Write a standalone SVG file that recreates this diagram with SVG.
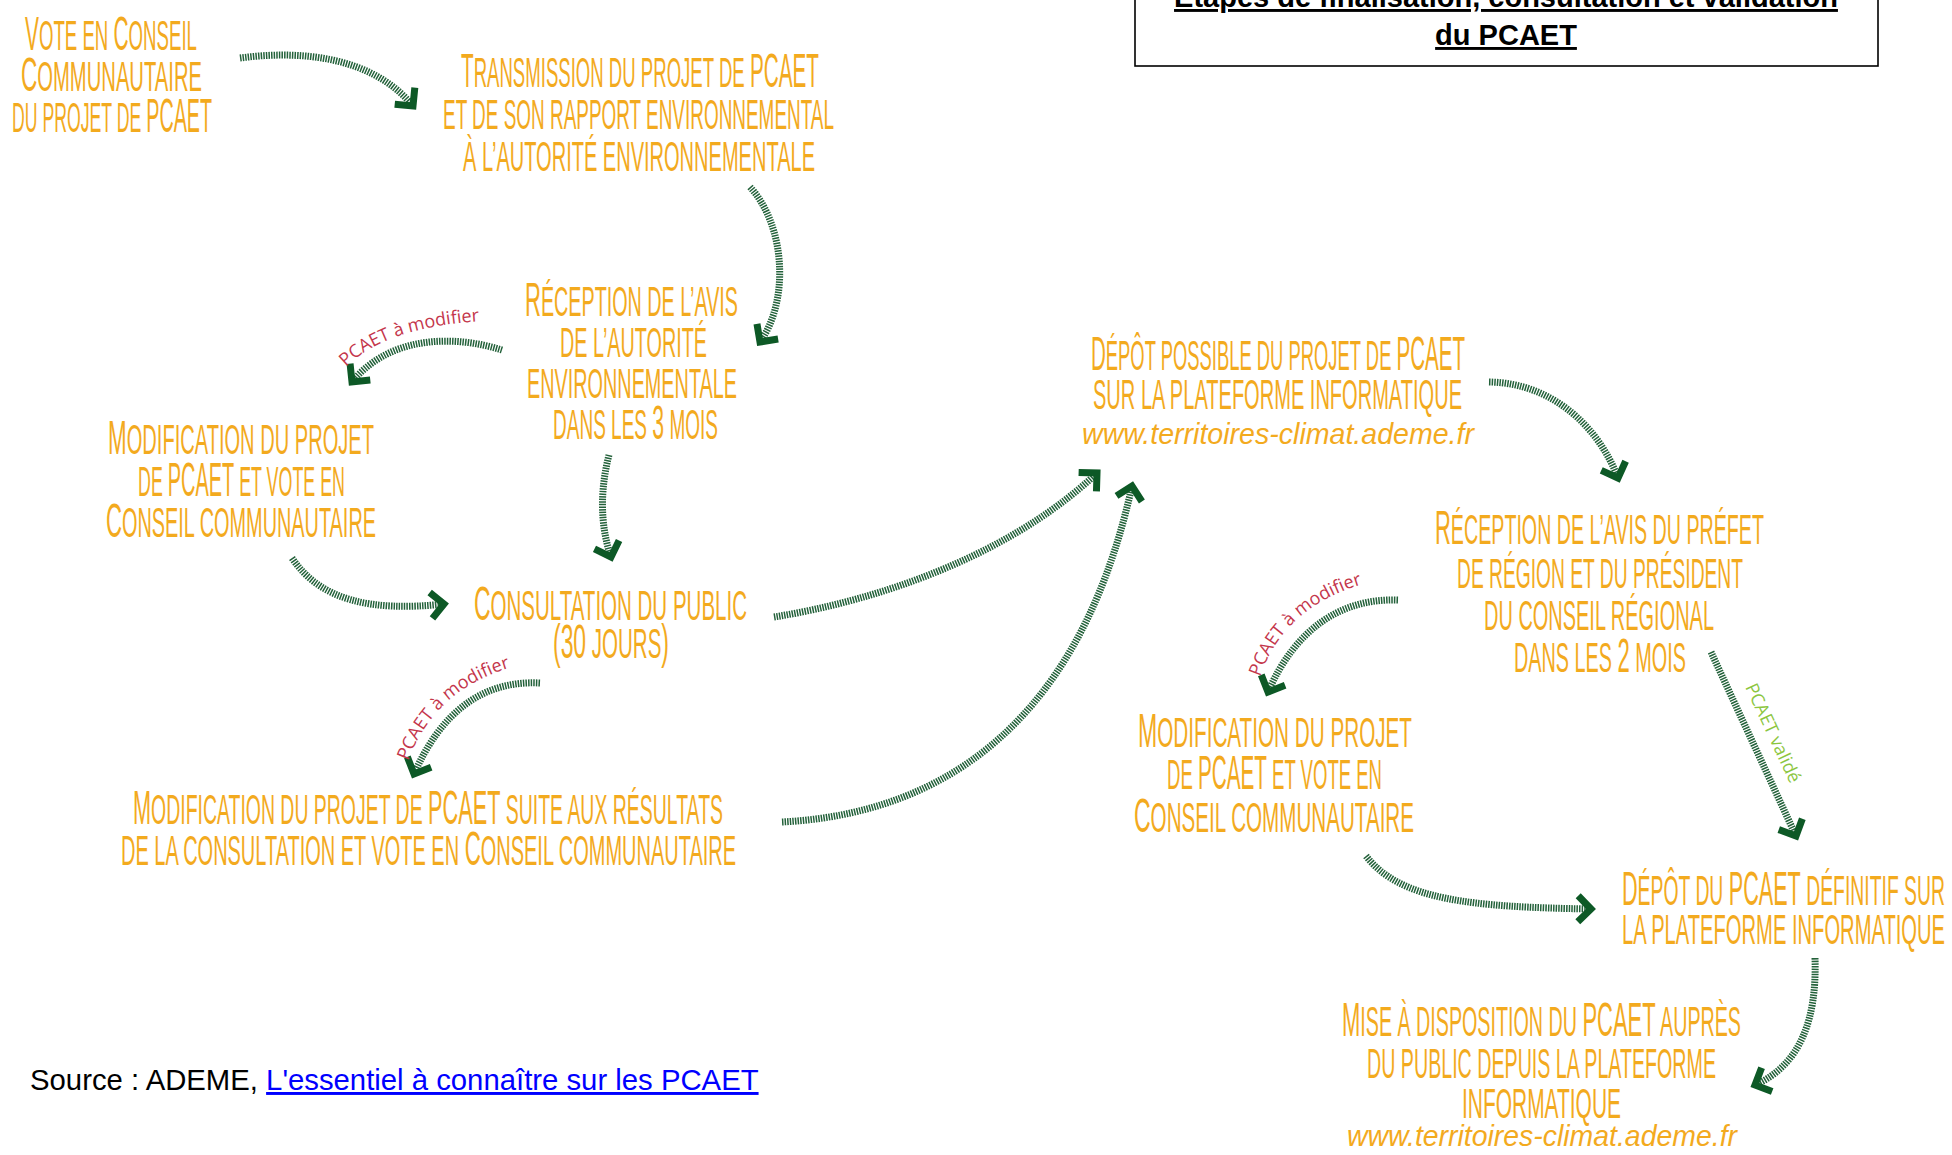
<svg xmlns="http://www.w3.org/2000/svg" width="1952" height="1155" viewBox="0 0 1952 1155">
<style>
.t{font-family:"Liberation Sans",Arial,sans-serif;font-size:43px;fill:#F3AA1E}
.b{font-size:48px}
.u{font-family:"Liberation Sans",Arial,sans-serif;font-style:italic;font-size:30px;fill:#F3AA1E}
.shaft{fill:none;stroke:#23613A;stroke-width:7;stroke-dasharray:1.5 1.1;marker-end:url(#head)}
.lbl{font-family:"Open Sans","Liberation Sans",sans-serif;font-size:18px;fill:#C4364B}
.ok{font-family:"Open Sans","Liberation Sans",sans-serif;font-size:18px;fill:#8CC63F}
.title{font-family:"Liberation Sans",Arial,sans-serif;font-size:29px;font-weight:bold;fill:#000;text-anchor:middle;text-decoration:underline}
.src{font-family:"Liberation Sans",Arial,sans-serif;font-size:29.3px;fill:#000}
</style>
<defs>
<marker id="head" markerUnits="userSpaceOnUse" viewBox="-20 -20 40 40" markerWidth="40" markerHeight="40" refX="0" refY="0" orient="auto" overflow="visible">
<path d="M-13,-13 L0,0 L-13,13" fill="none" stroke="#0D5926" stroke-width="7" stroke-linejoin="miter"/>
</marker>
<path id="lp1" d="M346,367 Q386,327 482,321"/>
<path id="lp2" d="M408,761 Q437,685 520,665"/>
<path id="lp3" d="M1260,677 Q1285,603 1374,581"/>
</defs>
<rect x="0" y="0" width="1952" height="1155" fill="#fff"/>

<g id="title">
<rect x="1135" y="-40" width="743" height="106" fill="none" stroke="#000" stroke-width="1.6"/>
<text class="title" x="1506" y="7">Étapes de finalisation, consultation et validation</text>
<text class="title" x="1506" y="45">du PCAET</text>
</g>

<g id="connectors">
<path class="shaft" d="M240,58 C300,50 372,56 413,106"/>
<path class="shaft" d="M750,187 C785,225 790,300 760,342"/>
<path class="shaft" d="M502,350 C455,335 390,335 352,382"/>
<path class="shaft" d="M609,455 C600,490 600,525 611,557"/>
<path class="shaft" d="M292,558 C320,600 370,612 444,604"/>
<path class="shaft" d="M540,683 C480,680 440,715 414,774"/>
<path class="shaft" d="M774,617 C880,600 1010,555 1097,473"/>
<path class="shaft" d="M782,822 C920,815 1075,745 1132,486"/>
<path class="shaft" d="M1489,382 C1555,383 1600,430 1618,478"/>
<path class="shaft" d="M1398,600 C1340,598 1295,630 1268,692"/>
<path class="shaft" d="M1711,652 L1796,836"/>
<path class="shaft" d="M1366,856 C1400,900 1470,907 1591,909"/>
<path class="shaft" d="M1815,958 C1817,1020 1800,1065 1755,1085"/>
<text class="lbl"><textPath href="#lp1">PCAET à modifier</textPath></text>
<text class="lbl"><textPath href="#lp2">PCAET à modifier</textPath></text>
<text class="lbl"><textPath href="#lp3">PCAET à modifier</textPath></text>
<text class="ok" transform="translate(1745,687) rotate(65)">PCAET validé</text>
</g>

<g id="n1">
<text class="t" x="25" y="50" textLength="172" lengthAdjust="spacingAndGlyphs"><tspan class="b">V</tspan>OTE EN <tspan class="b">C</tspan>ONSEIL</text>
<text class="t" x="21" y="91" textLength="181" lengthAdjust="spacingAndGlyphs"><tspan class="b">C</tspan>OMMUNAUTAIRE</text>
<text class="t" x="12" y="132" textLength="200" lengthAdjust="spacingAndGlyphs">DU PROJET DE <tspan class="b">PCAET</tspan></text>
</g>

<g id="n2">
<text class="t" x="461" y="87" textLength="358" lengthAdjust="spacingAndGlyphs"><tspan class="b">T</tspan>RANSMISSION DU PROJET DE <tspan class="b">PCAET</tspan></text>
<text class="t" x="443" y="129" textLength="391" lengthAdjust="spacingAndGlyphs">ET DE SON RAPPORT ENVIRONNEMENTAL</text>
<text class="t" x="463" y="171" textLength="352" lengthAdjust="spacingAndGlyphs">À L’AUTORITÉ ENVIRONNEMENTALE</text>
</g>

<g id="n3">
<text class="t" x="525" y="316" textLength="213" lengthAdjust="spacingAndGlyphs"><tspan class="b">R</tspan>ÉCEPTION DE L’AVIS</text>
<text class="t" x="560" y="357" textLength="147" lengthAdjust="spacingAndGlyphs">DE L’AUTORITÉ</text>
<text class="t" x="527" y="398" textLength="210" lengthAdjust="spacingAndGlyphs">ENVIRONNEMENTALE</text>
<text class="t" x="553" y="439" textLength="165" lengthAdjust="spacingAndGlyphs">DANS LES <tspan class="b">3</tspan> MOIS</text>
</g>

<g id="n4">
<text class="t" x="108" y="454" textLength="266" lengthAdjust="spacingAndGlyphs"><tspan class="b">M</tspan>ODIFICATION DU PROJET</text>
<text class="t" x="138" y="496" textLength="207" lengthAdjust="spacingAndGlyphs">DE <tspan class="b">PCAET</tspan> ET VOTE EN</text>
<text class="t" x="106" y="537" textLength="270" lengthAdjust="spacingAndGlyphs"><tspan class="b">C</tspan>ONSEIL COMMUNAUTAIRE</text>
</g>

<g id="n5">
<text class="t" x="474" y="620" textLength="273" lengthAdjust="spacingAndGlyphs"><tspan class="b">C</tspan>ONSULTATION DU PUBLIC</text>
<text class="t" x="553" y="658" textLength="116" lengthAdjust="spacingAndGlyphs"><tspan class="b">(30</tspan> JOURS<tspan class="b">)</tspan></text>
</g>

<g id="n6">
<text class="t" x="133" y="824" textLength="590" lengthAdjust="spacingAndGlyphs"><tspan class="b">M</tspan>ODIFICATION DU PROJET DE <tspan class="b">PCAET</tspan> SUITE AUX RÉSULTATS</text>
<text class="t" x="121" y="865" textLength="615" lengthAdjust="spacingAndGlyphs">DE LA CONSULTATION ET VOTE EN <tspan class="b">C</tspan>ONSEIL COMMUNAUTAIRE</text>
</g>

<g id="n7">
<text class="t" x="1091" y="370" textLength="374" lengthAdjust="spacingAndGlyphs"><tspan class="b">D</tspan>ÉPÔT POSSIBLE DU PROJET DE <tspan class="b">PCAET</tspan></text>
<text class="t" x="1093" y="409" textLength="369" lengthAdjust="spacingAndGlyphs">SUR LA PLATEFORME INFORMATIQUE</text>
<text class="u" x="1082" y="444" textLength="392" lengthAdjust="spacingAndGlyphs">www.territoires-climat.ademe.fr</text>
</g>

<g id="n8">
<text class="t" x="1435" y="544" textLength="329" lengthAdjust="spacingAndGlyphs"><tspan class="b">R</tspan>ÉCEPTION DE L’AVIS DU PRÉFET</text>
<text class="t" x="1457" y="588" textLength="286" lengthAdjust="spacingAndGlyphs">DE RÉGION ET DU PRÉSIDENT</text>
<text class="t" x="1484" y="630" textLength="230" lengthAdjust="spacingAndGlyphs">DU CONSEIL RÉGIONAL</text>
<text class="t" x="1514" y="672" textLength="172" lengthAdjust="spacingAndGlyphs">DANS LES <tspan class="b">2</tspan> MOIS</text>
</g>

<g id="n9">
<text class="t" x="1138" y="747" textLength="274" lengthAdjust="spacingAndGlyphs"><tspan class="b">M</tspan>ODIFICATION DU PROJET</text>
<text class="t" x="1167" y="789" textLength="215" lengthAdjust="spacingAndGlyphs">DE <tspan class="b">PCAET</tspan> ET VOTE EN</text>
<text class="t" x="1134" y="832" textLength="280" lengthAdjust="spacingAndGlyphs"><tspan class="b">C</tspan>ONSEIL COMMUNAUTAIRE</text>
</g>

<g id="n10">
<text class="t" x="1622" y="905" textLength="323" lengthAdjust="spacingAndGlyphs"><tspan class="b">D</tspan>ÉPÔT DU <tspan class="b">PCAET</tspan> DÉFINITIF SUR</text>
<text class="t" x="1622" y="944" textLength="323" lengthAdjust="spacingAndGlyphs">LA PLATEFORME INFORMATIQUE</text>
</g>

<g id="n11">
<text class="t" x="1342" y="1036" textLength="399" lengthAdjust="spacingAndGlyphs"><tspan class="b">M</tspan>ISE À DISPOSITION DU <tspan class="b">PCAET</tspan> AUPRÈS</text>
<text class="t" x="1367" y="1078" textLength="349" lengthAdjust="spacingAndGlyphs">DU PUBLIC DEPUIS LA PLATEFORME</text>
<text class="t" x="1462" y="1118" textLength="159" lengthAdjust="spacingAndGlyphs">INFORMATIQUE</text>
<text class="u" x="1347" y="1146" textLength="390" lengthAdjust="spacingAndGlyphs">www.territoires-climat.ademe.fr</text>
</g>

<g id="source">
<text class="src" x="30" y="1090">Source : ADEME, <tspan fill="#0000FF" text-decoration="underline">L'essentiel à connaître sur les PCAET</tspan></text>
</g>
</svg>
